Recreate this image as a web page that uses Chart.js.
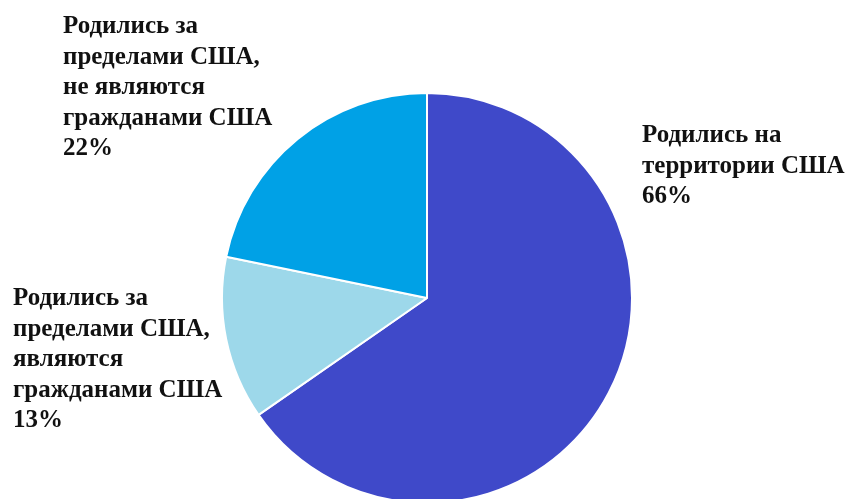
<!DOCTYPE html>
<html>
<head>
<meta charset="utf-8">
<script src="https://cdn.jsdelivr.net/npm/chart.js@4.4.1/dist/chart.umd.min.js"></script>
<style>
html,body{margin:0;padding:0;background:#fff;overflow:hidden;}
#wrap{width:847px;height:499px;position:relative;}
</style>
</head>
<body>
<div id="wrap"><canvas id="c" width="847" height="499"></canvas></div>
<script>
const categories = [
  "Родились на территории США",
  "Родились за пределами США, являются гражданами США",
  "Родились за пределами США, не являются гражданами США"
];
const values = [66, 13, 22];
const labelLines = [
  ["Родились на", "территории США", "66%"],
  ["Родились за", "пределами США,", "являются", "гражданами США", "13%"],
  ["Родились за", "пределами США,", "не являются", "гражданами США", "22%"]
];
const colors = ["#3F49C9", "#9DD8EA", "#00A1E6"];

// label anchor offsets relative to pie center (layout only)
const labelOffsets = [
  {dx: 215, dy: -156},
  {dx: -414, dy: 7},
  {dx: -364, dy: -265}
];

const labelPlugin = {
  id: 'sliceLabels',
  afterDatasetsDraw(chart) {
    const ctx = chart.ctx;
    const meta = chart.getDatasetMeta(0);
    ctx.save();
    ctx.font = 'bold 25px "Liberation Serif", "Times New Roman", serif';
    ctx.fillStyle = '#111';
    ctx.textAlign = 'left';
    ctx.textBaseline = 'alphabetic';
    meta.data.forEach((arc, i) => {
      const lines = labelLines[i];
      const off = labelOffsets[i];
      lines.forEach((t, j) => {
        ctx.fillText(t, arc.x + off.dx, arc.y + off.dy + j * 30.5);
      });
    });
    ctx.restore();
  }
};

new Chart(document.getElementById('c'), {
  type: 'pie',
  data: {
    labels: categories,
    datasets: [{
      data: values,
      backgroundColor: colors,
      borderColor: '#ffffff',
      borderWidth: 2,
      radius: 205
    }]
  },
  options: {
    responsive: false,
    devicePixelRatio: 1,
    animation: false,
    layout: {padding: {top: 97, left: 7, right: 0, bottom: 0}},
    plugins: {legend: {display: false}, tooltip: {enabled: false}}
  },
  plugins: [labelPlugin]
});
</script>
</body>
</html>
